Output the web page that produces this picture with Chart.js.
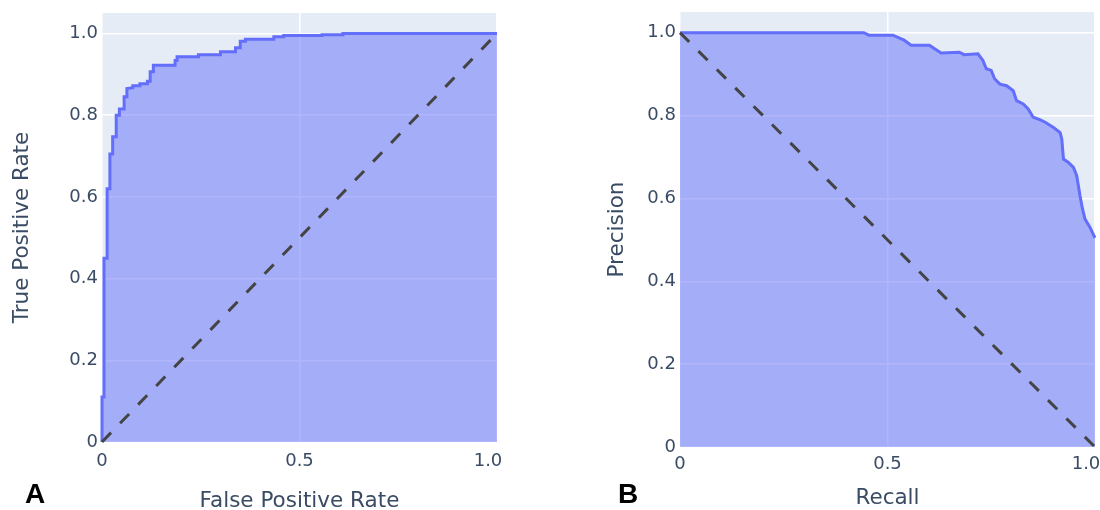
<!DOCTYPE html>
<html>
<head>
<meta charset="utf-8">
<script src="https://cdn.jsdelivr.net/npm/chart.js@4"></script>
<style>
  html, body { margin: 0; padding: 0; background: #ffffff; overflow: hidden; }
  #wrap { position: relative; width: 1100px; height: 510px; }
  canvas { position: absolute; top: 0; }
</style>
</head>
<body>
<div id="wrap">
  <canvas id="roc" width="550" height="510" style="left:0px"></canvas>
  <canvas id="pr" width="550" height="510" style="left:550px"></canvas>
</div>
<script>
// ---- data ----
const rocFpr = [0, 0, 0.005, 0.005, 0.013, 0.013, 0.02, 0.02, 0.027, 0.027, 0.036, 0.036, 0.044, 0.044, 0.056, 0.056, 0.063, 0.063, 0.078, 0.078, 0.096, 0.096, 0.115, 0.115, 0.122, 0.122, 0.13, 0.13, 0.185, 0.185, 0.19, 0.19, 0.244, 0.244, 0.30, 0.30, 0.338, 0.338, 0.35, 0.35, 0.363, 0.363, 0.435, 0.435, 0.46, 0.46, 0.557, 0.557, 0.61, 0.61, 1.0];
const rocTpr = [0, 0.11, 0.11, 0.45, 0.45, 0.62, 0.62, 0.705, 0.705, 0.747, 0.747, 0.80, 0.80, 0.815, 0.815, 0.845, 0.845, 0.865, 0.867, 0.872, 0.872, 0.877, 0.877, 0.883, 0.883, 0.906, 0.906, 0.922, 0.922, 0.934, 0.934, 0.943, 0.943, 0.948, 0.948, 0.955, 0.955, 0.965, 0.965, 0.981, 0.981, 0.986, 0.986, 0.992, 0.992, 0.995, 0.995, 0.997, 0.997, 1.0, 1.0];

const prRecall = [0, 0.443, 0.455, 0.513, 0.54, 0.557, 0.601, 0.629, 0.673, 0.685, 0.718, 0.73, 0.738, 0.75, 0.758, 0.771, 0.787, 0.803, 0.811, 0.827, 0.839, 0.851, 0.867, 0.88, 0.90, 0.916, 0.92, 0.924, 0.936, 0.948, 0.956, 0.964, 0.97, 0.976, 0.988, 1.0];
const prPrecision = [1.0, 1.0, 0.994, 0.994, 0.982, 0.97, 0.97, 0.951, 0.953, 0.947, 0.949, 0.933, 0.913, 0.909, 0.889, 0.876, 0.872, 0.860, 0.836, 0.828, 0.816, 0.796, 0.790, 0.784, 0.771, 0.759, 0.743, 0.695, 0.687, 0.675, 0.655, 0.606, 0.574, 0.550, 0.530, 0.505];

const rocDiagX = [0, 1];
const rocDiagY = [0, 1];
const prDiagX = [0, 1];
const prDiagY = [1, 0];

const xTickValues = [0, 0.5, 1.0];
const yTickValues = [0, 0.2, 0.4, 0.6, 0.8, 1.0];

const rocTitles = { x: 'False Positive Rate', y: 'True Positive Rate', panel: 'A' };
const prTitles = { x: 'Recall', y: 'Precision', panel: 'B' };

// ---- helpers ----
const TEXT = '#3a4b64';
const FONT = '"DejaVu Sans", Verdana, sans-serif';
const fmt = v => (v === 0 ? '0' : Number(v).toFixed(1));
// last x label sits slightly left of its tick in the reference
const fmtX = v => (v === 1 ? Number(v).toFixed(1) + '\u2003' : fmt(v));
const pts = (xs, ys) => xs.map((x, i) => ({ x: x, y: ys[i] }));

const bgPlugin = {
  id: 'plotBg',
  beforeDraw(chart) {
    const a = chart.chartArea, ctx = chart.ctx;
    ctx.save();
    ctx.fillStyle = '#E5ECF6';
    ctx.fillRect(a.left, a.top, a.right - a.left, a.bottom - a.top);
    ctx.restore();
  }
};
const panelPlugin = {
  id: 'panelLabel',
  afterDraw(chart, args, opts) {
    const ctx = chart.ctx;
    ctx.save();
    ctx.font = 'bold 28px "Liberation Sans", Arial, sans-serif';
    ctx.fillStyle = '#000000';
    ctx.textBaseline = 'alphabetic';
    ctx.textAlign = 'left';
    ctx.fillText(opts.text, opts.x, opts.y);
    ctx.restore();
  }
};

function makeChart(id, cfg) {
  return new Chart(document.getElementById(id), {
    type: 'scatter',
    data: {
      datasets: [
        {
          data: pts(cfg.cx, cfg.cy),
          showLine: true,
          borderColor: '#636EFA',
          borderWidth: 3,
          backgroundColor: 'rgba(99,110,250,0.5)',
          fill: 'origin',
          pointRadius: 0,
          tension: 0,
          clip: { left: 3, top: 3, right: 3, bottom: 0 },
          order: 2
        },
        {
          data: pts(cfg.dx, cfg.dy),
          showLine: true,
          borderColor: '#444444',
          borderWidth: 3,
          borderDash: [13, 13],
          fill: false,
          pointRadius: 0,
          clip: 3,
          order: 1
        }
      ]
    },
    options: {
      responsive: false,
      animation: false,
      devicePixelRatio: 1,
      layout: { padding: cfg.padding },
      plugins: {
        legend: { display: false },
        tooltip: { enabled: false },
        panelLabel: cfg.panel
      },
      scales: {
        x: {
          type: 'linear', min: 0, max: 1,
          afterBuildTicks: s => { s.ticks = xTickValues.map(v => ({ value: v })); },
          afterFit: s => { s.height = cfg.xH; s.paddingLeft = 0; s.paddingRight = 0; },
          grid: { color: '#ffffff', lineWidth: 1.5, drawTicks: false },
          border: { display: false },
          ticks: { callback: fmtX, color: TEXT, font: { family: FONT, size: 18 }, padding: cfg.xTickPad, maxRotation: 0, autoSkip: false },
          title: { display: true, text: cfg.titles.x, color: TEXT, font: { family: FONT, size: 21.5, lineHeight: 1.2 }, padding: { top: 0, bottom: cfg.xTitlePad } }
        },
        y: {
          type: 'linear', min: 0, max: 1.05,
          afterBuildTicks: s => { s.ticks = yTickValues.map(v => ({ value: v })); },
          afterFit: s => { s.width = cfg.yW; s.paddingTop = 0; s.paddingBottom = 0; },
          grid: { color: '#ffffff', lineWidth: 1.5, drawTicks: false },
          border: { display: false },
          ticks: { callback: fmt, color: TEXT, font: { family: FONT, size: 18 }, padding: 4, autoSkip: false },
          title: { display: true, text: cfg.titles.y, color: TEXT, font: { family: FONT, size: 21.5, lineHeight: 1.2 }, padding: { top: cfg.yTitlePad, bottom: 0 } }
        }
      }
    },
    plugins: [bgPlugin, panelPlugin]
  });
}

makeChart('roc', {
  cx: rocFpr, cy: rocTpr, dx: rocDiagX, dy: rocDiagY, titles: rocTitles,
  padding: { top: 13, right: 53, left: 0, bottom: 0 },
  xH: 68, yW: 102, xTitlePad: -4, yTitlePad: 10, xTickPad: 9,
  panel: { text: rocTitles.panel, x: 25, y: 503 }
});
makeChart('pr', {
  cx: prRecall, cy: prPrecision, dx: prDiagX, dy: prDiagY, titles: prTitles,
  padding: { top: 12, right: 5, left: 0, bottom: 0 },
  xH: 63, yW: 130, xTitlePad: -1, yTitlePad: 55, xTickPad: 7,
  panel: { text: prTitles.panel, x: 68, y: 503 }
});
</script>
</body>
</html>
